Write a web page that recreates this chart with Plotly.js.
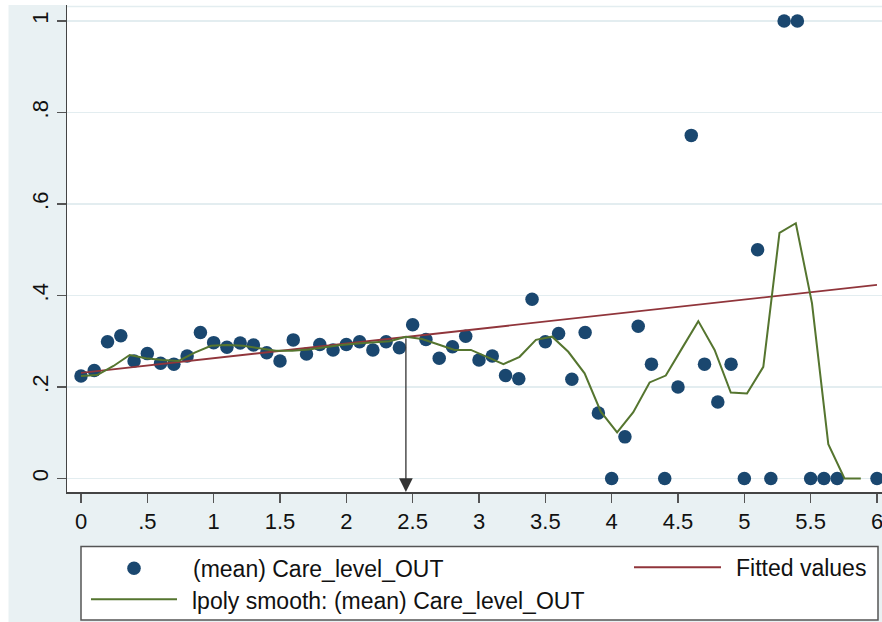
<!DOCTYPE html>
<html>
<head>
<meta charset="utf-8">
<script src="https://cdn.plot.ly/plotly-3.0.1.min.js"></script>
<style>
  html, body { margin: 0; padding: 0; background: #ffffff; }
  #chart { width: 882px; height: 622px; }
</style>
</head>
<body>
<div id="chart"></div>
<script>
// ---- data ----
var scatterX = [0, 0.1, 0.2, 0.3, 0.4, 0.5, 0.6, 0.7, 0.8, 0.9,
                1.0, 1.1, 1.2, 1.3, 1.4, 1.5, 1.6, 1.7, 1.8, 1.9,
                2.0, 2.1, 2.2, 2.3, 2.4, 2.5, 2.6, 2.7, 2.8, 2.9,
                3.0, 3.1, 3.2, 3.3, 3.4, 3.5, 3.6, 3.7, 3.8, 3.9,
                4.0, 4.1, 4.2, 4.3, 4.4, 4.5, 4.6, 4.7, 4.8, 4.9,
                5.0, 5.1, 5.2, 5.3, 5.4, 5.5, 5.6, 5.7, 6.0];
var scatterY = [0.224, 0.236, 0.299, 0.312, 0.257, 0.273, 0.252, 0.250, 0.268, 0.319,
                0.297, 0.287, 0.296, 0.292, 0.275, 0.257, 0.303, 0.272, 0.293, 0.281,
                0.293, 0.299, 0.281, 0.299, 0.286, 0.336, 0.304, 0.263, 0.288, 0.311,
                0.259, 0.268, 0.225, 0.218, 0.392, 0.299, 0.317, 0.217, 0.319, 0.143,
                0, 0.091, 0.333, 0.250, 0, 0.200, 0.750, 0.250, 0.167, 0.250,
                0, 0.500, 0, 1, 1, 0, 0, 0, 0];

var fitX = [0, 6];
var fitY = [0.231, 0.423];

var lpolyX = [0, 0.122, 0.245, 0.367, 0.490, 0.612, 0.735, 0.857, 0.980, 1.102,
              1.224, 1.347, 1.469, 1.592, 1.714, 1.837, 1.959, 2.082, 2.204, 2.327,
              2.449, 2.571, 2.694, 2.816, 2.939, 3.061, 3.184, 3.306, 3.429, 3.551,
              3.673, 3.796, 3.918, 4.041, 4.163, 4.286, 4.408, 4.531, 4.653, 4.776,
              4.898, 5.020, 5.143, 5.265, 5.388, 5.510, 5.633, 5.755, 5.878];
var lpolyY = [0.224, 0.226, 0.246, 0.270, 0.263, 0.259, 0.257, 0.275, 0.290, 0.292,
              0.290, 0.285, 0.279, 0.279, 0.282, 0.287, 0.292, 0.295, 0.298, 0.300,
              0.310, 0.305, 0.293, 0.281, 0.281, 0.266, 0.250, 0.266, 0.303, 0.310,
              0.277, 0.230, 0.146, 0.101, 0.145, 0.210, 0.225, 0.285, 0.344, 0.281,
              0.188, 0.186, 0.244, 0.537, 0.558, 0.383, 0.075, 0, 0];

var xTickVals = [0, 0.5, 1, 1.5, 2, 2.5, 3, 3.5, 4, 4.5, 5, 5.5, 6];
var xTickText = ['0', '.5', '1', '1.5', '2', '2.5', '3', '3.5', '4', '4.5', '5', '5.5', '6'];
var yTickVals = [0, 0.2, 0.4, 0.6, 0.8, 1];
var yTickText = ['0', '.2', '.4', '.6', '.8', '1'];

var arrowX = 2.449, arrowTop = 0.31;

var legendLabels = ['(mean) Care_level_OUT', 'Fitted values', 'lpoly smooth: (mean) Care_level_OUT'];

// ---- layout geometry (pixels) ----
var W = 882, H = 622;
var M = {l: 67, r: 0, t: 5, b: 130};
var PW = W - M.l - M.r, PH = H - M.t - M.b;
function px(x) { return (x - M.l) / PW; }          // pixel x -> paper x
function py(y) { return (H - M.b - y) / PH; }      // pixel y -> paper y

var NAVY = '#1a476f', MAROON = '#90353b', GREEN = '#55752f';
var FONT = '"Liberation Sans", Arial, sans-serif';
var BG = '#e9f1f3';

var traces = [
  {x: scatterX, y: scatterY, type: 'scatter', mode: 'markers', name: legendLabels[0],
   marker: {color: NAVY, size: 13.5}, showlegend: false},
  {x: fitX, y: fitY, type: 'scatter', mode: 'lines', name: legendLabels[1],
   line: {color: MAROON, width: 1.8}, showlegend: false},
  {x: lpolyX, y: lpolyY, type: 'scatter', mode: 'lines', name: legendLabels[2],
   line: {color: GREEN, width: 2}, showlegend: false}
];

var shapes = [
  // white strips at the left and top edges of the image
  {type: 'rect', xref: 'paper', yref: 'paper', x0: px(0), x1: px(8.5), y0: py(H), y1: py(0),
   fillcolor: '#ffffff', line: {width: 0}, layer: 'below'},
  {type: 'rect', xref: 'paper', yref: 'paper', x0: px(0), x1: px(W), y0: py(5), y1: py(0),
   fillcolor: '#ffffff', line: {width: 0}, layer: 'below'},
  // light top edge of the plot region
  {type: 'line', xref: 'paper', yref: 'paper', x0: 0, x1: 1, y0: py(6.5), y1: py(6.5),
   line: {color: '#e3edf0', width: 1.5}, layer: 'below'},
  // legend box
  {type: 'rect', xref: 'paper', yref: 'paper', x0: px(81), x1: px(878), y0: py(620), y1: py(546.5),
   fillcolor: '#ffffff', line: {color: '#555555', width: 1.5}},
  // legend keys
  {type: 'circle', xref: 'paper', yref: 'paper', x0: px(134 - 6.8), x1: px(134 + 6.8),
   y0: py(568.3 + 6.8), y1: py(568.3 - 6.8), fillcolor: NAVY, line: {width: 0}},
  {type: 'line', xref: 'paper', yref: 'paper', x0: px(634), x1: px(721), y0: py(567.3), y1: py(567.3),
   line: {color: MAROON, width: 2}},
  {type: 'line', xref: 'paper', yref: 'paper', x0: px(91), x1: px(177), y0: py(599.3), y1: py(599.3),
   line: {color: GREEN, width: 2}}
];

var yMin = -0.0295, yMax = 1.035;
var LFONT = {family: FONT, size: 23, color: '#111111'};
var annotations = [
  {x: arrowX, y: yMin, xref: 'x', yref: 'y', ax: arrowX, ay: arrowTop, axref: 'x', ayref: 'y',
   text: '', showarrow: true, arrowhead: 2, arrowsize: 2.1, arrowwidth: 1.3, arrowcolor: '#333333'},
  {x: px(191), y: py(569), xref: 'paper', yref: 'paper', text: legendLabels[0], showarrow: false,
   xanchor: 'left', yanchor: 'middle', font: LFONT},
  {x: px(734), y: py(568), xref: 'paper', yref: 'paper', text: legendLabels[1], showarrow: false,
   xanchor: 'left', yanchor: 'middle', font: LFONT},
  {x: px(190), y: py(600.5), xref: 'paper', yref: 'paper', text: legendLabels[2], showarrow: false,
   xanchor: 'left', yanchor: 'middle', font: LFONT}
];

var layout = {
  width: W, height: H,
  margin: M,
  paper_bgcolor: BG,
  plot_bgcolor: '#ffffff',
  showlegend: false,
  font: {family: FONT, size: 22, color: '#111111'},
  xaxis: {
    range: [-0.1055, 6.0377], tickvals: xTickVals, ticktext: xTickText,
    showgrid: false, zeroline: false, showline: true, linecolor: '#444444', linewidth: 1.5,
    ticks: 'outside', ticklen: 9, tickwidth: 1.5, tickcolor: '#555555',
    ticklabeloverflow: 'allow',
    tickfont: {family: FONT, size: 22, color: '#111111'}, fixedrange: true
  },
  yaxis: {
    range: [yMin, yMax], tickvals: yTickVals, ticktext: yTickText, tickangle: -90,
    showgrid: true, gridcolor: '#e3edf0', gridwidth: 1.5, zeroline: false,
    showline: true, linecolor: '#444444', linewidth: 1.5,
    ticks: 'outside', ticklen: 9, tickwidth: 1.5, tickcolor: '#555555',
    ticklabeloverflow: 'allow',
    tickfont: {family: FONT, size: 22, color: '#111111'}, fixedrange: true
  },
  shapes: shapes,
  annotations: annotations
};

Plotly.newPlot('chart', traces, layout, {staticPlot: true, displayModeBar: false});
</script>
</body>
</html>
